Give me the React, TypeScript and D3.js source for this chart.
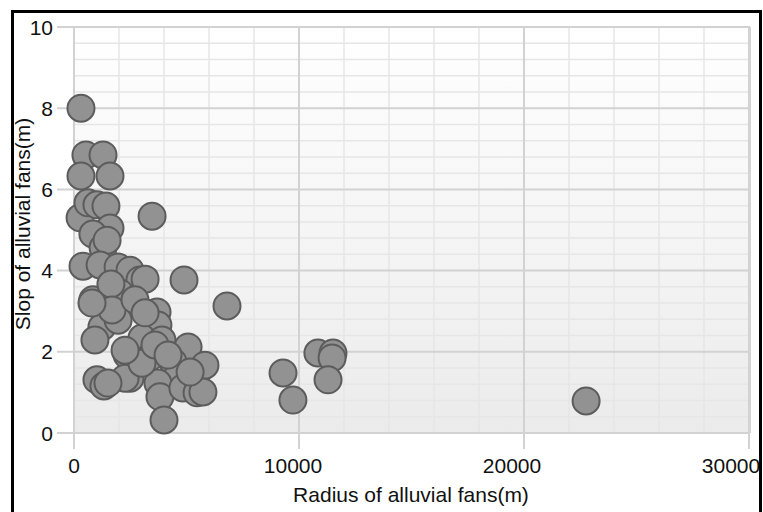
import React from "react";
import * as d3 from "d3";

// fan radius (m) and slope
const radius = [
  310, 530, 1290, 310, 1600, 3470, 270, 620, 1020, 1420, 1600, 840, 1290, 1470,
  400, 1160, 1960, 2490, 2930, 3160, 4890, 6800, 840, 2040, 1640, 1510, 1240,
  930, 1960, 1690, 2710, 3690, 3730, 3020, 3910, 2360, 2800, 3380, 5070, 5820,
  4400, 4580, 3730, 3820, 4840, 5470, 5730, 4000, 2490, 1020, 1330, 2270, 3020,
  3600, 4180, 5160, 9290, 9730, 10840, 11510, 11470, 11290, 22760, 800, 2270,
  1510, 3160,
];
const slope = [
  8.0, 6.85, 6.85, 6.33, 6.33, 5.34, 5.3, 5.67, 5.62, 5.59, 5.05, 4.9, 4.56,
  4.75, 4.11, 4.14, 4.09, 4.01, 3.77, 3.79, 3.77, 3.13, 3.28, 3.45, 3.67, 2.86,
  2.61, 2.29, 2.78, 3.03, 3.28, 2.98, 2.66, 2.34, 2.29, 1.92, 1.75, 1.87, 2.12,
  1.67, 1.75, 1.38, 1.23, 0.89, 1.11, 0.99, 1.01, 0.32, 1.35, 1.31, 1.16, 1.35,
  1.72, 2.17, 1.92, 1.5, 1.48, 0.81, 1.97, 1.97, 1.85, 1.31, 0.79, 3.2, 2.04,
  1.23, 2.96,
];
const xTicks = [0, 10000, 20000, 30000];
const yTicks = [0, 2, 4, 6, 8, 10];

const W = 763;
const H = 512;

export default function App() {
  const x = d3.scaleLinear().domain([0, 30000]).range([74, 749]);
  // the x labels drift left of their ticks in the original
  const xLab = d3.scaleLinear().domain([0, 30000]).range([74, 731]);
  const y = d3.scaleLinear().domain([0, 10]).range([433, 27]);
  const right = 750;

  const xMinor = d3.range(0, 30001, 2000).filter((v) => v % 10000 !== 0);
  const yMinor = d3.range(0, 51).map((i) => i * 0.2).filter((v, i) => i % 2 === 0 && i % 10 !== 0);

  const pts = radius.map((r, i) => ({ r, s: slope[i] }));
  const font = "'Liberation Sans', Arial, sans-serif";

  return (
    <svg
      width={W}
      height={H}
      style={{ position: "absolute", left: 0, top: 0, background: "#fff" }}
      fontFamily={font}
    >
      <defs>
        <linearGradient id="bg" x1="0" y1="0" x2="0" y2="1">
          <stop offset="0" stopColor="#ffffff" />
          <stop offset="1" stopColor="#ebebeb" />
        </linearGradient>
      </defs>

      <rect x={x(0)} y={y(10)} width={right - x(0)} height={y(0) - y(10)} fill="url(#bg)" />

      {/* minor grid */}
      {xMinor.map((v) => (
        <line key={"xm" + v} x1={x(v)} x2={x(v)} y1={y(10)} y2={y(0)} stroke="#e6e6e6" strokeWidth={1.5} />
      ))}
      {yMinor.map((v) => (
        <line key={"ym" + v} x1={x(0)} x2={right} y1={y(v)} y2={y(v)} stroke="#e6e6e6" strokeWidth={1.5} />
      ))}
      {/* major grid */}
      {xTicks.map((v) => (
        <line key={"xg" + v} x1={x(v)} x2={x(v)} y1={y(10)} y2={y(0) + 16} stroke="#d2d2d2" strokeWidth={2} />
      ))}
      {yTicks.map((v) => (
        <line key={"yg" + v} x1={x(0) - 17} x2={right} y1={y(v)} y2={y(v)} stroke="#d2d2d2" strokeWidth={2} />
      ))}
      <line x1={right} x2={right} y1={y(10)} y2={y(0)} stroke="#d4d4d4" strokeWidth={2} />

      {/* points */}
      {pts.map((p, i) => (
        <circle
          key={i}
          cx={x(p.r)}
          cy={y(p.s)}
          r={13.5}
          fill="#929292"
          stroke="#5c5c5c"
          strokeWidth={2}
        />
      ))}

      {/* tick labels */}
      {yTicks.map((v) => (
        <text key={"yl" + v} x={53} y={y(v)} dy="0.36em" textAnchor="end" fontSize={21} fill="#111">
          {v}
        </text>
      ))}
      {xTicks.map((v) => (
        <text key={"xl" + v} x={xLab(v)} y={473} textAnchor="middle" fontSize={21} fill="#111">
          {v}
        </text>
      ))}

      {/* axis titles */}
      <text x={411} y={502} textAnchor="middle" fontSize={21} fill="#111">
        Radius of alluvial fans(m)
      </text>
      <text
        transform={`translate(30,${(y(0) + y(10)) / 2 - 6}) rotate(-90)`}
        textAnchor="middle"
        fontSize={21}
        fill="#111"
      >
        Slop of alluvial fans(m)
      </text>

      {/* frame */}
      <rect x={12.5} y={11.5} width={748} height={520} fill="none" stroke="#000" strokeWidth={3} />
    </svg>
  );
}
